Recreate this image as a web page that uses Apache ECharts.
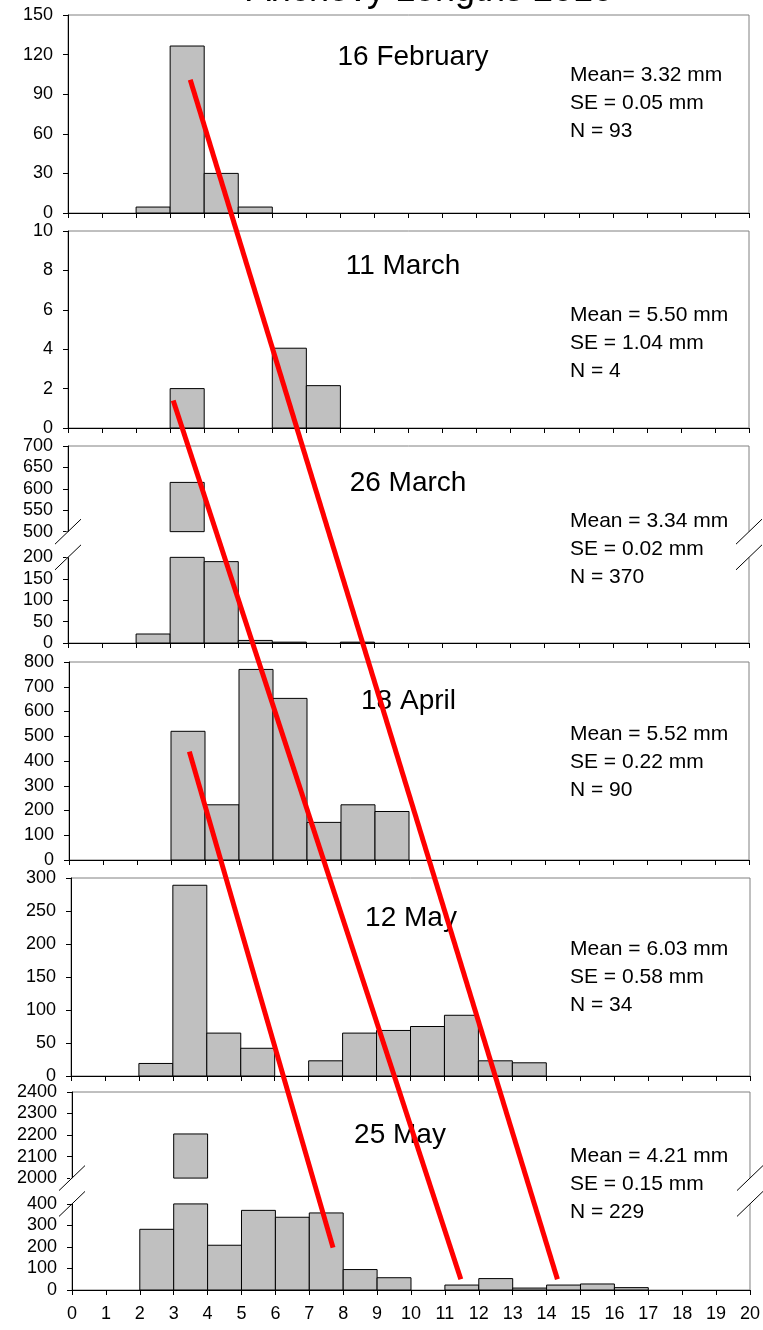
<!DOCTYPE html>
<html><head><meta charset="utf-8">
<script src="https://cdn.jsdelivr.net/npm/echarts@6/dist/echarts.min.js"></script>
<style>html,body{margin:0;padding:0;background:#fff}#c{width:763px;height:1330px}</style>
</head><body><div id="c"></div>
<script>
// ---------- DATA ----------
const chartTitle = 'Anchovy Lengths 2010';
const binStarts = [0,1,2,3,4,5,6,7,8,9,10,11,12,13,14,15,16,17,18,19]; // bin [x, x+1) mm
const dates = ['16 February','11 March','26 March','18 April','12 May','25 May'];
const meanTexts = ['Mean= 3.32 mm','Mean = 5.50 mm','Mean = 3.34 mm','Mean = 5.52 mm','Mean = 6.03 mm','Mean = 4.21 mm'];
const seTexts = ['SE = 0.05 mm','SE = 1.04 mm','SE = 0.02 mm','SE = 0.22 mm','SE = 0.58 mm','SE = 0.15 mm'];
const nTexts = ['N = 93','N = 4','N = 370','N = 90','N = 34','N = 229'];
const feb16 = [0,0,4.5,126.5,30,4.5,0,0,0,0,0,0,0,0,0,0,0,0,0,0];
const mar11 = [0,0,0,2.0,0,0,4.05,2.15,0,0,0,0,0,0,0,0,0,0,0,0];
const mar26 = [0,0,21,615,190,6,2,0,2,0,0,0,0,0,0,0,0,0,0,0];
const apr18 = [0,0,0,520,223,770,653,152,223,196,0,0,0,0,0,0,0,0,0,0];
const may12 = [0,0,19,289,65,42,0,23,65,69,75,92,23,20,0,0,0,0,0,0];
const may25 = [0,0,282,2205,208,370,338,358,95,57,0,23,53,9,23,28,11,0,0,0];
const panelValues = [feb16, mar11, mar26, apr18, may12, may25];
const yMax = [150, 10, 700, 800, 300, 2400];
const yInterval = [30, 2, 50, 100, 50, 100];
const yBreaks = [null, null, {from: 200, to: 500}, null, null, {from: 400, to: 2000}];
// red trend lines: [panelIndex, length (mm), count]
const trendLines = [
  {from: [0, 3.59, 101], to: [5, 14.32, 50]},
  {from: [1, 3.09, 1.4], to: [5, 11.47, 50]},
  {from: [3, 3.54, 438], to: [5, 7.70, 197]}
];

// ---------- LAYOUT ----------
const gridTops = [15, 231, 446, 662, 878, 1092];
const gridHeights = [198, 197, 197, 198, 198, 198];
const gridLefts = [68, 68, 68, 69, 71, 72];
const gridWidths = [681, 681, 681, 680, 679, 678];
const dateCenters = [[413, 57.5], [403, 266.7], [408, 483.3], [408.5, 701.7], [411, 918], [400, 1135]];
const statsTop = [75.5, 315, 521.2, 734.7, 948.8, 1155.8];
const statsLeft = 570;
const statsGap = 28;
const FONT = '"Liberation Sans", Arial, sans-serif';

function gapOf(i) { return yInterval[i] * 1.2; }
function tr(i, v) {
  const b = yBreaks[i];
  if (!b || v <= b.from) return v;
  return v - (b.to - b.from) + gapOf(i);
}
function untr(i, v) {
  const b = yBreaks[i];
  if (!b || v <= b.from) return v;
  return v + (b.to - b.from) - gapOf(i);
}

const chart = echarts.init(document.getElementById('c'), null, {renderer: 'canvas'});

const grids = [], xAxes = [], yAxes = [], series = [];
for (let i = 0; i < 6; i++) {
  grids.push({left: gridLefts[i], top: gridTops[i], width: gridWidths[i], height: gridHeights[i],
    show: true, borderColor: '#808080', borderWidth: 1, backgroundColor: 'transparent', containLabel: false});
  xAxes.push({type: 'value', gridIndex: i, min: 0, max: 20, interval: 1,
    axisLine: {show: true, onZero: false, lineStyle: {color: '#000', width: 1}},
    axisTick: {show: true, inside: false, length: 5, lineStyle: {color: '#000'}},
    axisLabel: {show: i === 5, color: '#000', fontSize: 18, fontFamily: FONT, margin: 15},
    splitLine: {show: false}});
  const b = yBreaks[i];
  const y = {type: 'value', gridIndex: i, min: 0,
    axisLine: {show: true, lineStyle: {color: '#000', width: 1}},
    axisTick: {show: true, inside: false, length: 5, lineStyle: {color: '#000'}},
    axisLabel: {color: '#000', fontSize: 18, fontFamily: FONT, margin: 15},
    splitLine: {show: false}};
  if (b) {
    const vals = [];
    for (let v = 0; v <= b.from; v += yInterval[i]) vals.push(tr(i, v));
    for (let v = b.to; v <= yMax[i]; v += yInterval[i]) vals.push(tr(i, v));
    y.max = tr(i, yMax[i]);
    y.interval = 10;
    y.axisLabel.customValues = vals;
    y.axisTick.customValues = vals;
    y.axisLabel.formatter = (v) => String(Math.round(untr(i, v)));
  } else {
    y.max = yMax[i];
    y.interval = yInterval[i];
  }
  yAxes.push(y);

  const data = binStarts.map((s, k) => [s, panelValues[i][k]]).filter(d => d[1] > 0);
  series.push({type: 'custom', xAxisIndex: i, yAxisIndex: i, z: 2, clip: false, data: data,
    renderItem: function (params, api) {
      const x0 = api.value(0), v = api.value(1);
      const segs = [];
      if (b && v > b.to) { segs.push([0, b.from]); segs.push([b.from + gapOf(i), tr(i, v)]); }
      else segs.push([0, v]);
      return {type: 'group', children: segs.map(s => {
        const a = api.coord([x0, s[0]]), c = api.coord([x0 + 1, s[1]]);
        return {type: 'rect', shape: {x: a[0], y: c[1], width: c[0] - a[0], height: a[1] - c[1]},
          style: {fill: '#C0C0C0', stroke: '#000', lineWidth: 1}};
      })};
    }});
  if (b) {
    series.push({type: 'custom', xAxisIndex: i, yAxisIndex: i, z: 4, clip: false, data: [[0]],
      renderItem: function (params, api) {
        const children = [];
        [0, 20].forEach(xv => {
          const pLo = api.coord([xv, b.from]);
          const pHi = api.coord([xv, b.from + gapOf(i)]);
          children.push({type: 'rect', shape: {x: pLo[0] - 2, y: pHi[1], width: 4, height: pLo[1] - pHi[1]},
            style: {fill: '#fff'}});
          [pLo, pHi].forEach(p => {
            children.push({type: 'line', shape: {x1: p[0] - 13, y1: p[1] + 12.5, x2: p[0] + 13, y2: p[1] - 12.5},
              style: {stroke: '#000', lineWidth: 1}});
          });
        });
        return {type: 'group', children: children};
      }});
  }
}

chart.setOption({
  animation: false,
  backgroundColor: '#fff',
  grid: grids, xAxis: xAxes, yAxis: yAxes, series: series
});

// texts and trend lines
const graphic = [];
graphic.push({type: 'text', id: 'title', x: 430, y: -9, z: 10,
  style: {text: chartTitle, font: '36px ' + FONT, fill: '#000', textAlign: 'center', textVerticalAlign: 'middle'}});
for (let i = 0; i < 6; i++) {
  graphic.push({type: 'text', id: 'date' + i, x: dateCenters[i][0], y: dateCenters[i][1], z: 10,
    style: {text: dates[i], font: '28px ' + FONT, fill: '#000', textAlign: 'center', textVerticalAlign: 'middle'}});
  [meanTexts[i], seTexts[i], nTexts[i]].forEach((t, k) => {
    graphic.push({type: 'text', id: 'st' + i + '_' + k, x: statsLeft, y: statsTop[i] + k * statsGap, z: 10,
      style: {text: t, font: '21px ' + FONT, fill: '#000', textAlign: 'left', textVerticalAlign: 'middle'}});
  });
}
trendLines.forEach((ln, k) => {
  const p1 = chart.convertToPixel({xAxisIndex: ln.from[0], yAxisIndex: ln.from[0]}, [ln.from[1], tr(ln.from[0], ln.from[2])]);
  const p2 = chart.convertToPixel({xAxisIndex: ln.to[0], yAxisIndex: ln.to[0]}, [ln.to[1], tr(ln.to[0], ln.to[2])]);
  graphic.push({type: 'line', id: 'trend' + k, z: 20,
    shape: {x1: p1[0], y1: p1[1], x2: p2[0], y2: p2[1]},
    style: {stroke: '#FF0000', lineWidth: 5, lineCap: 'butt'}});
});
chart.setOption({graphic: graphic});
</script>
</body></html>
